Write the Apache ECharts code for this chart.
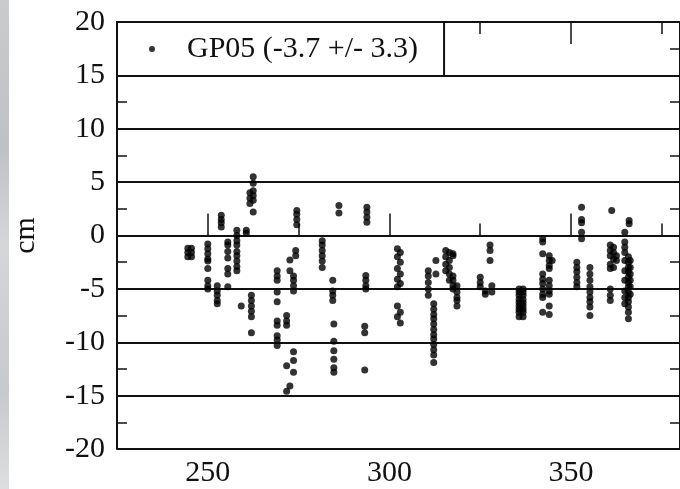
<!DOCTYPE html>
<html>
<head>
<meta charset="utf-8">
<script src="https://cdn.jsdelivr.net/npm/echarts@6/dist/echarts.min.js"></script>
<style>
  html, body { margin: 0; padding: 0; background: #fff; }
  #chart { width: 680px; height: 489px; }
</style>
</head>
<body>
<div id="chart"></div>
<script>
// x positions of each vertical run of samples
const sampleDays = [
  244.5, 245.5, 250, 252.6, 253.7, 255.5, 258, 260.6, 259.2, 262,
  262.5, 261.6, 269.1, 271.7, 272.6, 273.6, 274.2, 274.5, 281.5, 284.4,
  284.7, 286.1, 293.8, 293.5, 293.2, 302.2, 303, 310.7, 312.8, 312.2,
  315.5, 316.5, 317.5, 318.6, 327.7, 325, 326.4, 328.2, 335.7, 336.8,
  342.2, 344, 344.8, 351.6, 352.9, 355.2, 361.2, 360.8, 361.7, 362.5,
  366, 364.8, 365.8, 366.3
];
// offsets (cm) for each run, same order as sampleDays
const offsetsCm = [
  [-1.2, -1.6, -2.0], [-1.2, -1.6, -2.0],
  [-0.8, -1.25, -1.7, -2.2, -2.4, -3.1, -4.2, -4.7, -5.0],
  [-4.7, -5.2, -5.6, -6.1, -6.4],
  [1.9, 1.5, 1.2, 0.8],
  [-0.6, -0.9, -1.5, -2.1, -3.1, -3.6, -4.8],
  [0.5, 0.0, -0.5, -0.9, -1.5, -1.9, -2.4, -2.9, -3.3],
  [0.5, 0.2],
  [-6.6],
  [-5.6, -6.1, -6.6, -7.1, -7.6, -9.1],
  [5.5, 4.9, 4.2, 3.75, 3.3, 2.2],
  [4.0, 3.5, 3.0],
  [-3.3, -3.8, -4.2, -5.3, -6.2, -8.0, -8.4, -9.4, -9.8, -10.3],
  [-7.5, -8.0, -8.4, -12.2, -14.6],
  [-2.3, -3.3, -14.1],
  [-3.8, -4.2, -4.7, -5.2, -10.9, -11.7, -12.8],
  [-1.4, -1.9],
  [2.35, 2.0, 1.5, 1.0],
  [-0.5, -0.9, -1.4, -1.9, -2.4, -3.0],
  [-4.2, -5.2, -5.6, -6.1],
  [-8.3, -9.9, -10.8, -11.6, -12.4, -12.8],
  [2.8, 2.1],
  [2.65, 2.2, 1.7, 1.25],
  [-3.75, -4.2, -4.7, -5.0],
  [-8.5, -9.1, -12.6],
  [-1.25, -2.0, -3.1, -4.1, -4.8, -6.6, -7.6],
  [-1.6, -2.5, -3.6, -4.5, -7.2, -8.2],
  [-3.3, -3.8, -4.4, -5.0, -5.6],
  [-2.35, -3.6],
  [-6.4, -6.9, -7.4, -7.8, -8.3, -8.8, -9.3, -9.7, -10.2, -10.7, -11.2, -11.9],
  [-1.4, -2.0, -2.7, -3.3],
  [-1.6, -2.35, -3.0, -3.6, -4.2],
  [-1.7, -1.9, -3.8, -4.2, -4.7, -5.0],
  [-4.7, -5.3, -5.8, -6.1, -6.6],
  [-0.9, -1.4, -2.35],
  [-3.9, -4.4, -4.8],
  [-5.2, -5.5],
  [-4.7, -5.3],
  [-5.0, -5.3, -5.6, -6.0, -6.3, -6.6, -6.9, -7.2, -7.6],
  [-5.0, -5.3, -5.6, -6.0, -6.3, -6.6, -6.9, -7.2, -7.6],
  [-0.3, -0.6, -1.7, -3.6, -4.1, -4.5, -5.0, -5.5, -5.8, -7.2],
  [-1.9, -2.35, -2.8, -3.1, -4.2, -4.7, -5.2, -5.5, -6.6, -7.4],
  [-2.35],
  [-2.5, -3.0, -3.4, -3.9, -4.4, -4.8],
  [2.65, 1.5, 1.2, 0.3, -0.3],
  [-3.0, -3.6, -4.2, -4.8, -5.3, -5.8, -6.2, -6.7, -7.5],
  [2.35],
  [-0.9, -1.4, -1.9, -2.7, -3.1, -5.0, -5.6, -6.1],
  [-1.1, -1.6, -2.2, -3.0],
  [-1.9, -2.35],
  [1.4, 1.1],
  [0.3, -0.6, -1.1, -1.6, -2.35, -3.3, -4.2, -5.2, -5.8, -6.4],
  [-2.0, -2.5, -3.0, -3.4, -3.9, -4.4, -4.8, -5.3, -5.8, -6.2, -6.7, -7.2, -7.8],
  [-2.35, -3.0, -3.6, -4.2, -4.8, -5.5]
];
const seriesName = 'GP05 (-3.7 +/- 3.3)';
const xMajor = [250, 300, 350];
const xMinor = [275, 325, 375];

const points = [];
sampleDays.forEach((d, i) => {
  offsetsCm[i].forEach(v => points.push([d, v]));
});

const font = 'Liberation Serif';
const ink = '#111';

const xBase = {
  type: 'value', gridIndex: 0, min: 225, max: 380,
  splitLine: { show: false },
  axisLabel: { show: false }
};

const chart = echarts.init(document.getElementById('chart'));
chart.setOption({
  animation: false,
  backgroundColor: '#fff',
  graphic: [{
    type: 'rect',
    left: 0, top: 0,
    shape: { width: 9, height: 489 },
    style: {
      fill: new echarts.graphic.LinearGradient(0, 0, 0, 1, [
        { offset: 0, color: '#c9cbcc' },
        { offset: 0.3, color: '#bfc2c4' },
        { offset: 0.5, color: '#d4d6d8' },
        { offset: 0.8, color: '#c7cacc' },
        { offset: 1, color: '#dcdedf' }
      ])
    }
  }],
  grid: { left: 117, right: -5, top: 22, bottom: 40 },
  legend: {
    data: [{ name: seriesName, icon: 'circle' }],
    left: 117, top: 22,
    selectedMode: false,
    itemWidth: 6, itemHeight: 6,
    padding: [12, 26, 12, 32],
    backgroundColor: '#fff',
    borderColor: ink, borderWidth: 2, borderRadius: 0,
    textStyle: { fontFamily: font, fontSize: 30, color: ink, padding: [0, 0, 0, 27] }
  },
  xAxis: [
    Object.assign({}, xBase, {
      position: 'bottom',
      axisLine: { show: true, lineStyle: { color: ink, width: 2 } },
      axisTick: { show: true, inside: true, length: 22, customValues: xMajor, lineStyle: { color: ink, width: 1.5 } },
      axisLabel: { show: true, customValues: xMajor, fontFamily: font, fontSize: 30, color: ink, margin: 9 }
    }),
    Object.assign({}, xBase, {
      position: 'bottom',
      axisLine: { show: false },
      axisTick: { show: true, inside: true, length: 12, customValues: xMinor, lineStyle: { color: ink, width: 1.5 } }
    }),
    Object.assign({}, xBase, {
      position: 'top',
      axisLine: { show: true, lineStyle: { color: ink, width: 2 } },
      axisTick: { show: true, inside: true, length: 22, customValues: xMajor, lineStyle: { color: ink, width: 1.5 } }
    }),
    Object.assign({}, xBase, {
      position: 'top',
      axisLine: { show: false },
      axisTick: { show: true, inside: true, length: 12, customValues: xMinor, lineStyle: { color: ink, width: 1.5 } }
    })
  ],
  yAxis: [
    {
      type: 'value', position: 'left', min: -20, max: 20, interval: 5,
      name: 'cm', nameLocation: 'middle', nameGap: 76,
      nameTextStyle: { fontFamily: font, fontSize: 30, color: ink },
      axisLine: { show: true, lineStyle: { color: ink, width: 2 } },
      axisTick: { show: false, inside: true },
      minorTick: { show: true, splitNumber: 2, length: 10, lineStyle: { color: ink, width: 1.5 } },
      axisLabel: { fontFamily: font, fontSize: 30, color: ink, margin: 12 },
      splitLine: { show: true, lineStyle: { color: ink, width: 2 } }
    },
    {
      type: 'value', position: 'right', min: -20, max: 20, interval: 5,
      axisLine: { show: true, lineStyle: { color: ink, width: 2 } },
      axisTick: { show: false, inside: true },
      minorTick: { show: true, splitNumber: 2, length: 10, lineStyle: { color: ink, width: 1.5 } },
      axisLabel: { show: false },
      splitLine: { show: false }
    }
  ],
  series: [{
    name: seriesName,
    type: 'scatter',
    xAxisIndex: 0, yAxisIndex: 0,
    symbol: 'circle',
    symbolSize: 7,
    itemStyle: { color: '#000' },
    data: points
  }]
});
</script>
</body>
</html>
